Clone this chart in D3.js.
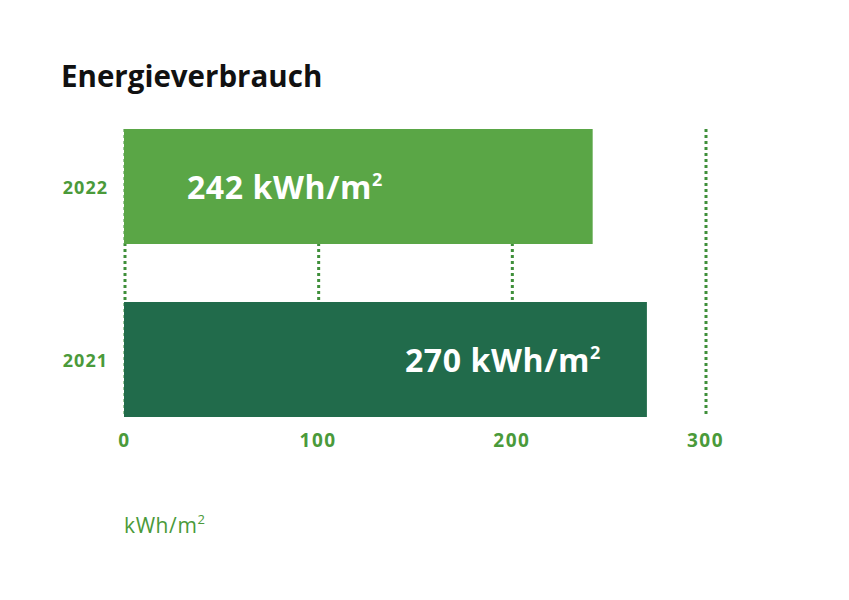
<!DOCTYPE html>
<html><head><meta charset="utf-8">
<script src="https://cdn.jsdelivr.net/npm/d3@7"></script>
<style>body{margin:0;background:#fff;}svg{display:block;}</style>
</head><body>
<svg id="c" width="849" height="600"></svg>
<script>
const categories = ["2022", "2021"];
const values = [242, 270];
const valueLabels = ["242 kWh/m", "270 kWh/m"];
const tickValues = [0, 100, 200, 300];
const title = "Energieverbrauch";
const unitLabel = "kWh/m";

const colors = ["#5aa646", "#216b4b"];
const green = "#4a9a3a";
const font = "'Open Sans', sans-serif";

const svg = d3.select("#c");
const x = d3.scaleLinear().domain([0, 300]).range([124, 705]);
const y = d3.scaleBand().domain(categories).range([129, 417]).paddingInner(58 / 173);

svg.append("text").attr("x", 61).attr("y", 87).text(title)
  .attr("font-family", font).attr("font-weight", 700).attr("font-size", 29.5).attr("fill", "#111");

// gridlines
svg.append("g").selectAll("line").data(tickValues).join("line")
  .attr("x1", d => x(d) + 1).attr("x2", d => x(d) + 1)
  .attr("y1", 129).attr("y2", 417)
  .attr("stroke", "#3f8f3a").attr("stroke-width", 3).attr("stroke-dasharray", "3,3");

// bars
svg.append("g").selectAll("rect").data(values).join("rect")
  .attr("x", x(0)).attr("y", (d, i) => y(categories[i]))
  .attr("width", d => x(d) - x(0)).attr("height", y.bandwidth())
  .attr("fill", (d, i) => colors[i]);

// value labels
const lbl = svg.append("g").selectAll("text").data(values).join("text")
  .attr("x", (d, i) => i === 0 ? x(32.5) : x(d) - 46)
  .attr("y", (d, i) => y(categories[i]) + y.bandwidth() / 2 + 12)
  .attr("text-anchor", (d, i) => i === 0 ? "start" : "end")
  .attr("font-family", font).attr("font-weight", 700).attr("font-size", 32).attr("letter-spacing", 0.6).attr("fill", "#fff");
lbl.text((d, i) => valueLabels[i]).append("tspan")
  .attr("dy", -13).attr("font-size", 18).text("2");

// category labels
svg.append("g").selectAll("text").data(categories).join("text")
  .attr("x", 108).attr("y", d => y(d) + y.bandwidth() / 2 + 7)
  .attr("text-anchor", "end").text(d => d)
  .attr("font-family", font).attr("font-weight", 700).attr("font-size", 18).attr("letter-spacing", 1).attr("fill", green);

// x axis
const ax = svg.append("g").attr("transform", "translate(0,431)")
  .call(d3.axisBottom(x).tickValues(tickValues).tickSize(0).tickPadding(0).tickFormat(d3.format("d")));
ax.select(".domain").remove();
ax.selectAll("text").attr("dy", "0.85em")
  .attr("font-family", font).attr("font-weight", 700).attr("font-size", 19).attr("letter-spacing", 1.5).attr("fill", green);

// unit label
const u = svg.append("text").attr("x", 124).attr("y", 533)
  .attr("font-family", font).attr("font-weight", 400).attr("font-size", 21).attr("letter-spacing", 0.6).attr("fill", green).text(unitLabel);
u.append("tspan").attr("dy", -9).attr("font-size", 13).text("2");
</script>
</body></html>
